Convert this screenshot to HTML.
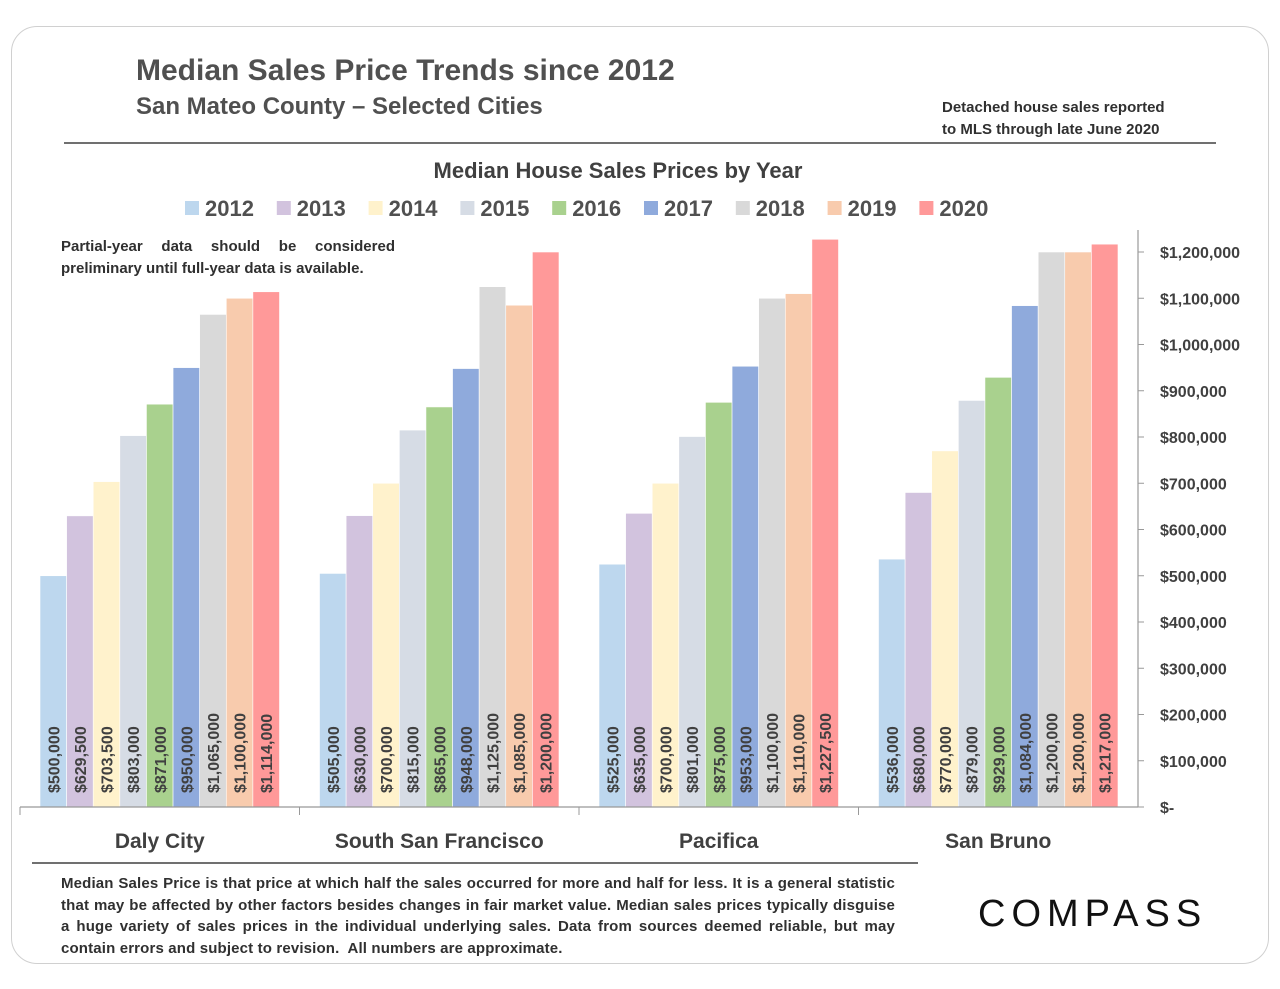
<!DOCTYPE html>
<html><head><meta charset="utf-8"><style>
body{margin:0;background:#fff;font-family:"Liberation Sans",sans-serif;}
.t{position:absolute;color:#404040;font-weight:bold;}
</style></head><body>
<div style="position:absolute;left:11px;top:26px;width:1256px;height:936px;border:1.5px solid #d0d0d0;border-radius:26px;"></div>
<div class="t" style="left:136px;top:54px;font-size:30px;color:#505050">Median Sales Price Trends since 2012</div>
<div class="t" style="left:136px;top:93px;font-size:24px;color:#505050">San Mateo County – Selected Cities</div>
<div class="t" style="left:942px;top:97px;font-size:15px;line-height:22px;color:#303030">Detached house sales reported<br>to MLS through late June 2020</div>
<div style="position:absolute;left:64px;top:142px;width:1152px;height:1.5px;background:#707070"></div>
<div class="t" style="left:0;width:1236px;text-align:center;top:158px;font-size:22px">Median House Sales Prices by Year</div>
<div class="t" style="left:61px;top:236px;width:334px;font-size:15px;line-height:22px;text-align:justify;text-align-last:left;color:#303030">Partial-year data should be considered preliminary until full-year data is available.</div>
<svg id="chart" width="1280" height="989" style="position:absolute;left:0;top:0" xmlns="http://www.w3.org/2000/svg"></svg>
<div style="position:absolute;left:32px;top:862px;width:886px;height:1.5px;background:#707070"></div>
<div class="t" style="left:61px;top:873px;width:834px;font-size:15px;line-height:21.5px;letter-spacing:0.15px;text-align:justify;color:#303030">Median Sales Price is that price at which half the sales occurred for more and half for less. It is a general statistic that may be affected by other factors besides changes in fair market value. Median sales prices typically disguise a huge variety of sales prices in the individual underlying sales. Data from sources deemed reliable, but may contain errors and subject to revision.&nbsp; All numbers are approximate.</div>
<div style="position:absolute;left:978px;top:893px;font-size:38px;letter-spacing:6px;color:#111;font-family:'Liberation Sans',sans-serif">COMPASS</div>
<script>
const categories=["Daly City","South San Francisco","Pacifica","San Bruno"];
const years=["2012","2013","2014","2015","2016","2017","2018","2019","2020"];
const colors=["#bdd7ee","#d2c3de","#fff2cc","#d6dce5","#a9d18e","#8faadc","#d9d9d9","#f8cbad","#ff9999"];
const dalyCity=[500000,629500,703500,803000,871000,950000,1065000,1100000,1114000];
const southSF=[505000,630000,700000,815000,865000,948000,1125000,1085000,1200000];
const pacifica=[525000,635000,700000,801000,875000,953000,1100000,1110000,1227500];
const sanBruno=[536000,680000,770000,879000,929000,1084000,1200000,1200000,1217000];
const yTicks=[0,100000,200000,300000,400000,500000,600000,700000,800000,900000,1000000,1100000,1200000];
const series=[dalyCity,southSF,pacifica,sanBruno];
const svg=document.getElementById('chart');
const NS="http://www.w3.org/2000/svg";
const X0=20,X1=1138,BASE=807,TOPY=252,YMAX=1200000;
const y=v=>BASE-(v/YMAX)*(BASE-TOPY);
const gw=(X1-X0)/categories.length,pad=20,bw=(gw-2*pad)/years.length;
function mk(t,a){const e=document.createElementNS(NS,t);for(const k in a)e.setAttribute(k,a[k]);svg.appendChild(e);return e;}
const fmt=v=>v===0?"$-":"$"+v.toLocaleString("en-US");
series.forEach((s,gi)=>{
  s.forEach((v,i)=>{
    const bx=X0+gi*gw+pad+i*bw;
    const r=mk('rect',{x:bx,y:y(v),width:bw,height:BASE-y(v),fill:colors[i],stroke:"#ffffff","stroke-width":0.6});
    
    
    const cx=bx+bw/2+6;
    const t=mk('text',{x:cx,y:793,transform:`rotate(-90 ${cx} 793)`,"font-size":16,"font-weight":"bold",fill:"#404040","font-family":"Liberation Sans, sans-serif"});
    t.textContent=fmt(v);
    
    
  });
  const c=mk('text',{x:X0+gi*gw+gw/2,y:848,"text-anchor":"middle","font-size":21,"font-weight":"bold",fill:"#404040","font-family":"Liberation Sans, sans-serif"});
  c.textContent=categories[gi];
  
  
  const tk=mk('line',{x1:X0+gi*gw,x2:X0+gi*gw,y1:BASE,y2:BASE+8,stroke:"#999"});
  
  
});
const ax=mk('line',{x1:X0,x2:X1,y1:BASE,y2:BASE,stroke:"#999","stroke-width":1.2});


const ya=mk('line',{x1:X1,x2:X1,y1:230,y2:BASE,stroke:"#999","stroke-width":1.2});


yTicks.forEach(v=>{
  const l=mk('line',{x1:X1,x2:X1+6,y1:y(v),y2:y(v),stroke:"#999"});
  
  
  const t=mk('text',{x:1160,y:y(v)+6,"font-size":16,"font-weight":"bold",fill:"#404040","font-family":"Liberation Sans, sans-serif"});
  t.textContent=fmt(v);
  
  
});
let lx=185;
years.forEach((yr,i)=>{
  const r=mk('rect',{x:lx,y:201,width:14,height:14,fill:colors[i]});
  
  
  const t=mk('text',{x:lx+20,y:216,"font-size":22,"font-weight":"bold",fill:"#505050","font-family":"Liberation Sans, sans-serif"});
  t.textContent=yr;
  
  
  lx+=91.8;
});
</script>
</body></html>
